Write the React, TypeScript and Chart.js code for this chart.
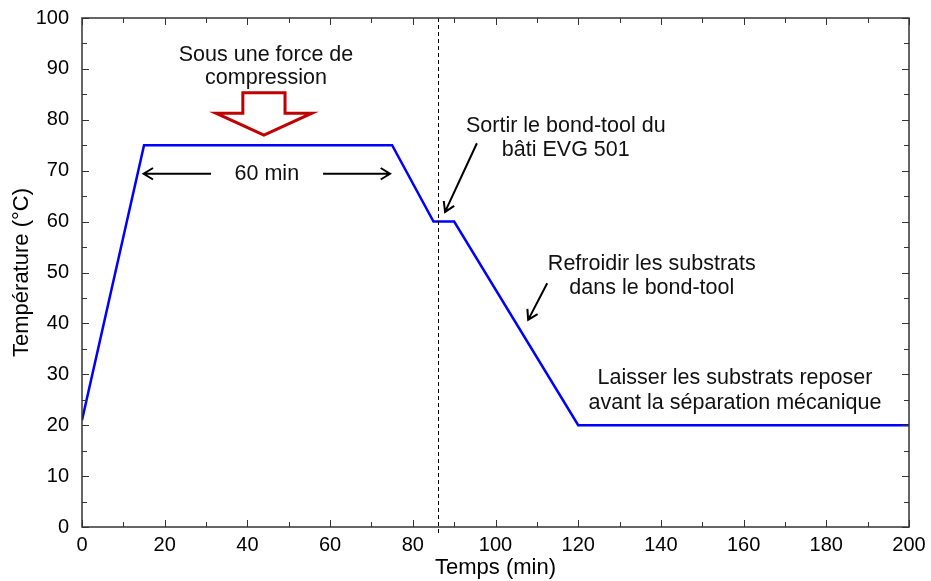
import React, { useEffect, useRef } from "react";
import { Chart, registerables } from "chart.js";

Chart.register(...registerables);

const timeMin = [0, 15, 75, 85, 90, 120, 200];
const tempC = [21, 75, 75, 60, 60, 20, 20];
const markerTime = 86;
const xMin = 0, xMax = 200, xStep = 20, xMinor = 10;
const yMin = 0, yMax = 100, yStep = 10, yMinor = 5;

const textNotes = [
  { x: 44.5, y: 92.7, text: "Sous une force de" },
  { x: 44.5, y: 88.2, text: "compression" },
  { x: 44.7, y: 69.4, text: "60 min" },
  { x: 117, y: 78.8, text: "Sortir le bond-tool du" },
  { x: 117, y: 74.1, text: "bâti EVG 501" },
  { x: 137.8, y: 51.7, text: "Refroidir les substrats" },
  { x: 137.8, y: 47.0, text: "dans le bond-tool" },
  { x: 157.9, y: 29.3, text: "Laisser les substrats reposer" },
  { x: 157.9, y: 24.4, text: "avant la séparation mécanique" },
];

// arrows: from (x1,y1) to (x2,y2) in data units, head at end
const arrowNotes = [
  { x1: 31.2, y1: 69.4, x2: 14.9, y2: 69.4 },
  { x1: 58.3, y1: 69.4, x2: 74.5, y2: 69.4 },
  { x1: 95.5, y1: 75.4, x2: 87.8, y2: 61.9 },
  { x1: 112.5, y1: 47.9, x2: 107.9, y2: 40.7 },
];

// red hollow block arrow (data units)
const blockArrow = { bodyL: 38.9, bodyR: 49.1, top: 85.3, headL: 32.4, headR: 55.6, headY: 81.3, tipX: 44, tipY: 77.0 };

const FONT = "'Liberation Sans', Arial, sans-serif";

const decorPlugin = {
  id: "decor",
  afterDatasetsDraw(chart: any) {
    const { ctx, chartArea: a, scales } = chart;
    const xs = scales.x, ys = scales.y;
    const px = (v: number) => xs.getPixelForValue(v);
    const py = (v: number) => ys.getPixelForValue(v);
    ctx.save();
    // dashed marker
    ctx.strokeStyle = "#000";
    ctx.lineWidth = 1;
    ctx.setLineDash([4, 3]);
    ctx.beginPath();
    ctx.moveTo(Math.round(px(markerTime)) + 0.5, a.top);
    ctx.lineTo(Math.round(px(markerTime)) + 0.5, a.bottom + 6);
    ctx.stroke();
    ctx.setLineDash([]);
    // frame
    ctx.strokeStyle = "#333";
    ctx.lineWidth = 1.5;
    ctx.strokeRect(a.left, a.top, a.right - a.left, a.bottom - a.top);
    // ticks
    ctx.lineWidth = 1;
    for (let v = xMin; v <= xMax; v += xMinor) {
      const len = v % xStep === 0 ? 7 : 5;
      const x = Math.round(px(v)) + 0.5;
      ctx.beginPath();
      ctx.moveTo(x, a.bottom); ctx.lineTo(x, a.bottom - len);
      ctx.moveTo(x, a.top); ctx.lineTo(x, a.top + len);
      ctx.stroke();
    }
    for (let v = yMin; v <= yMax; v += yMinor) {
      const len = v % yStep === 0 ? 7 : 5;
      const y = Math.round(py(v)) + 0.5;
      ctx.beginPath();
      ctx.moveTo(a.left, y); ctx.lineTo(a.left + len, y);
      ctx.moveTo(a.right, y); ctx.lineTo(a.right - len, y);
      ctx.stroke();
    }
    // texts
    ctx.fillStyle = "#111";
    ctx.font = `21.5px ${FONT}`;
    ctx.textAlign = "center";
    ctx.textBaseline = "middle";
    for (const t of textNotes) ctx.fillText(t.text, px(t.x), py(t.y));
    // arrows
    ctx.strokeStyle = "#000";
    ctx.lineWidth = 2;
    for (const ar of arrowNotes) {
      const x1 = px(ar.x1), y1 = py(ar.y1), x2 = px(ar.x2), y2 = py(ar.y2);
      const ang = Math.atan2(y2 - y1, x2 - x1);
      const h = 11, w = 0.55;
      ctx.beginPath();
      ctx.moveTo(x1, y1); ctx.lineTo(x2, y2);
      ctx.moveTo(x2 - h * Math.cos(ang - w), y2 - h * Math.sin(ang - w));
      ctx.lineTo(x2, y2);
      ctx.lineTo(x2 - h * Math.cos(ang + w), y2 - h * Math.sin(ang + w));
      ctx.stroke();
    }
    // block arrow
    const b = blockArrow;
    ctx.strokeStyle = "#c00000";
    ctx.lineWidth = 3;
    ctx.lineJoin = "miter";
    ctx.beginPath();
    ctx.moveTo(px(b.bodyL), py(b.top));
    ctx.lineTo(px(b.bodyR), py(b.top));
    ctx.lineTo(px(b.bodyR), py(b.headY));
    ctx.lineTo(px(b.headR), py(b.headY));
    ctx.lineTo(px(b.tipX), py(b.tipY));
    ctx.lineTo(px(b.headL), py(b.headY));
    ctx.lineTo(px(b.bodyL), py(b.headY));
    ctx.closePath();
    ctx.stroke();
    ctx.restore();
  },
};

export default function App() {
  const ref = useRef<HTMLCanvasElement | null>(null);
  useEffect(() => {
    document.body.style.margin = "0";
    const chart = new Chart(ref.current!, {
      type: "line",
      data: {
        datasets: [
          {
            data: timeMin.map((t, i) => ({ x: t, y: tempC[i] })),
            borderColor: "#0000ff",
            borderWidth: 2.5,
            pointRadius: 0,
            fill: false,
            tension: 0,
          },
        ],
      },
      options: {
        animation: false,
        responsive: false,
        devicePixelRatio: 1,
        layout: { padding: { left: 0, top: 18, right: 22, bottom: 0 } },
        plugins: { legend: { display: false }, tooltip: { enabled: false } },
        scales: {
          x: {
            type: "linear",
            min: xMin,
            max: xMax,
            grid: { display: false },
            border: { display: false },
            ticks: { stepSize: xStep, color: "#000", font: { family: FONT, size: 20 }, padding: -2, maxRotation: 0 },
            title: { display: true, text: "Temps (min)", color: "#000", font: { family: FONT, size: 22 }, padding: { top: 0, bottom: 0 } },
            afterFit: (s: any) => { s.height = 54; },
          },
          y: {
            type: "linear",
            min: yMin,
            max: yMax,
            grid: { display: false },
            border: { display: false },
            ticks: { stepSize: yStep, color: "#000", font: { family: FONT, size: 20 }, padding: 5 },
            title: { display: true, text: "Température (°C)", color: "#000", font: { family: FONT, size: 22 }, padding: { top: 9, bottom: 0 } },
            afterFit: (s: any) => { s.width = 82; },
          },
        },
      },
      plugins: [decorPlugin],
    });
    return () => chart.destroy();
  }, []);
  return (
    <div style={{ position: "absolute", left: 0, top: 0, width: 931, height: 581, background: "#fff" }}>
      <canvas ref={ref} width={931} height={581} style={{ width: 931, height: 581 }} />
    </div>
  );
}
